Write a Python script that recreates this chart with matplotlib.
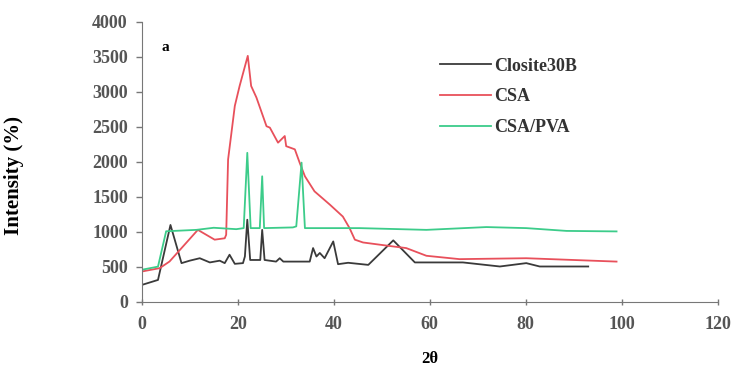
import matplotlib
matplotlib.use("Agg")
import matplotlib.pyplot as plt

# Closite30B
clo_x = [0.0, 3.4, 6.0, 8.3, 10.0, 12.1, 14.2, 16.25, 17.3, 18.3, 19.4, 21.1, 21.5, 22.0,
         22.6, 24.7, 25.1, 25.6, 28.0, 28.75, 29.5, 35.0, 35.7, 36.4, 37.1, 38.1, 39.9,
         40.9, 43.0, 47.2, 52.4, 56.9, 66.9, 74.6, 80.1, 82.9, 93.0]
clo_y = [243, 315, 1100, 555, 590, 625, 565, 590, 555, 675, 545, 555, 650, 1175,
         600, 600, 1030, 600, 577, 625, 577, 577, 770, 650, 700, 625, 865,
         540, 560, 530, 880, 565, 565, 507, 555, 507, 507]

# CSA
csa_x = [0.0, 3.75, 5.8, 11.7, 15.2, 17.3, 17.6, 18.0, 19.4, 20.4, 22.1, 22.8, 23.9, 26.0,
         26.7, 28.4, 29.8, 30.1, 31.9, 32.9, 34.0, 36.0, 39.2, 41.9, 43.3, 44.4, 46.1,
         52.4, 55.1, 59.3, 66.2, 80.1, 98.9]
csa_y = [435, 483, 578, 1030, 890, 910, 960, 2035, 2800, 3085, 3515, 3085, 2920, 2510,
         2490, 2275, 2370, 2225, 2180, 1990, 1795, 1580, 1390, 1220, 1055, 890, 850,
         793, 770, 660, 612, 625, 577]

# CSA/PVA
pva_x = [0.0, 3.4, 5.1, 11.4, 15.0, 19.7, 21.25, 22.0, 22.7, 24.6, 25.1, 25.5, 31.5, 32.2,
         33.3, 34.0, 45.4, 59.3, 71.8, 80.1, 88.5, 98.9]
pva_y = [460, 505, 1010, 1030, 1060, 1040, 1055, 2130, 1055, 1055, 1795, 1055, 1065, 1080,
         1990, 1055, 1055, 1030, 1070, 1055, 1015, 1008]

xticks = [0, 20, 40, 60, 80, 100, 120]
yticks = [0, 500, 1000, 1500, 2000, 2500, 3000, 3500, 4000]

plt.rcParams["font.family"] = ["Liberation Serif", "DejaVu Serif"]

fig = plt.figure(figsize=(7.34, 3.71), dpi=100)
ax = fig.add_axes([0.193, 0.186, 0.785, 0.755])

ax.plot(clo_x, clo_y, color="#3a3a3a", lw=1.3, label="Closite30B")
ax.plot(csa_x, csa_y, color="#e8505b", lw=1.3, label="CSA")
ax.plot(pva_x, pva_y, color="#3ccc8a", lw=1.3, label="CSA/PVA")

ax.set_xlim(0, 120)
ax.set_ylim(0, 4000)
ax.set_xticks(xticks)
ax.set_yticks(yticks)
for s in ["top", "right"]:
    ax.spines[s].set_visible(False)
for s in ["left", "bottom"]:
    ax.spines[s].set_color("#777777")
ax.tick_params(colors="#777777", labelcolor="#555555", labelsize=13, length=4, width=1)
ax.tick_params(axis="x", direction="inout", pad=8)
ax.tick_params(axis="y", pad=6)
for lab in ax.get_xticklabels() + ax.get_yticklabels():
    lab.set_fontweight("bold")

ax.set_xlabel("2θ", fontsize=12, fontweight="bold", labelpad=13)
ax.set_ylabel("Intensity (%)", fontsize=15, fontweight="bold")
ax.yaxis.set_label_coords(-0.205, 0.45)
ax.text(0.035, 0.895, "a", transform=ax.transAxes, fontsize=11, fontweight="bold")

leg = ax.legend(loc="upper left", bbox_to_anchor=(0.49, 0.93), frameon=False,
                prop={"size": 13, "weight": "bold"}, handlelength=2.8,
                labelspacing=0.75, handletextpad=0.2)
for t in leg.get_texts():
    t.set_color("#333333")

fig.savefig("out.png", dpi=100)
